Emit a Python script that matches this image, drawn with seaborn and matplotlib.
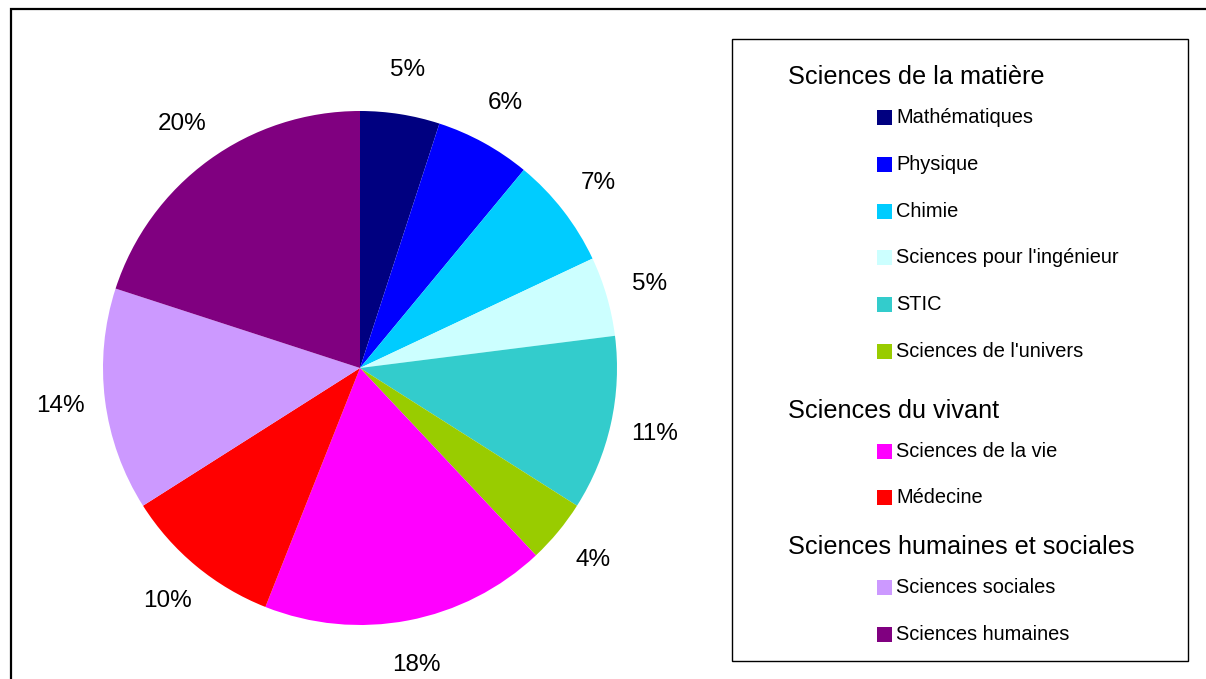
import matplotlib
matplotlib.use("Agg")
import matplotlib.pyplot as plt
from matplotlib.patches import Rectangle
import seaborn as sns

sns.set_theme(style="white")
plt.rcParams["font.family"] = ["Liberation Sans", "DejaVu Sans"]
plt.rcParams["text.color"] = "black"

# Share of grants by discipline (%), clockwise from the top
disciplines = [
    "Mathématiques", "Physique", "Chimie", "Sciences pour l'ingénieur",
    "STIC", "Sciences de l'univers", "Sciences de la vie", "Médecine",
    "Sciences sociales", "Sciences humaines",
]
shares = [5, 6, 7, 5, 11, 4, 18, 10, 14, 20]
colors = [
    "#000080", "#0000FF", "#00CCFF", "#CCFFFF", "#33CCCC",
    "#99CC00", "#FF00FF", "#FF0000", "#CC99FF", "#800080",
]
# Legend groups: heading and how many disciplines fall under it
groups = ["Sciences de la matière", "Sciences du vivant", "Sciences humaines et sociales"]
group_sizes = [6, 2, 2]

W, H = 1206, 679
fig = plt.figure(figsize=(W / 100, H / 100), dpi=100)
fig.patch.set_facecolor("white")

# Pie axes: centre (360, 368) px, radius 257 px
R = 257
lim = 1.3
side = 2 * lim * R
cx, cy = 360, H - 368
ax = fig.add_axes([(cx - side / 2) / W, (cy - side / 2) / H, side / W, side / H])
wedges, _, autotexts = ax.pie(
    shares, colors=colors, startangle=90, counterclock=False,
    autopct=lambda p: f"{p:.0f}%", pctdistance=1.175,
    wedgeprops=dict(linewidth=0),
    textprops=dict(fontsize=17.5, color="black"),
)
ax.set_xlim(-lim, lim)
ax.set_ylim(-lim, lim)
ax.set_aspect("equal")
ax.axis("off")

# Outer frame
fig.add_artist(Rectangle((11 / W, -0.1), 1.1, (H - 9) / H + 0.1,
                         transform=fig.transFigure, fill=False,
                         edgecolor="black", linewidth=1.6))

# Legend box
lx0, lx1, ly0, ly1 = 732, 1188, 39, 661
fig.add_artist(Rectangle((lx0 / W, 1 - ly1 / H), (lx1 - lx0) / W, (ly1 - ly0) / H,
                         transform=fig.transFigure, fill=False,
                         edgecolor="black", linewidth=1.0))

head_x, patch_x, text_x = 788, 877, 896
after_group = [59, 49]
y = 77
idx = 0
for gi, (g, n) in enumerate(zip(groups, group_sizes)):
    fig.text(head_x / W, 1 - y / H, g, fontsize=18.2, ha="left", va="center")
    y += 40.5
    for k in range(n):
        fig.add_artist(Rectangle((patch_x / W, 1 - (y + 7.5) / H), 15 / W, 15 / H,
                                 transform=fig.transFigure,
                                 facecolor=colors[idx], edgecolor="none"))
        fig.text(text_x / W, 1 - y / H, disciplines[idx], fontsize=14.4,
                 ha="left", va="center")
        idx += 1
        if k < n - 1:
            y += 46.8
    if gi < len(after_group):
        y += after_group[gi]

fig.savefig("out.png", dpi=100, facecolor="white")
